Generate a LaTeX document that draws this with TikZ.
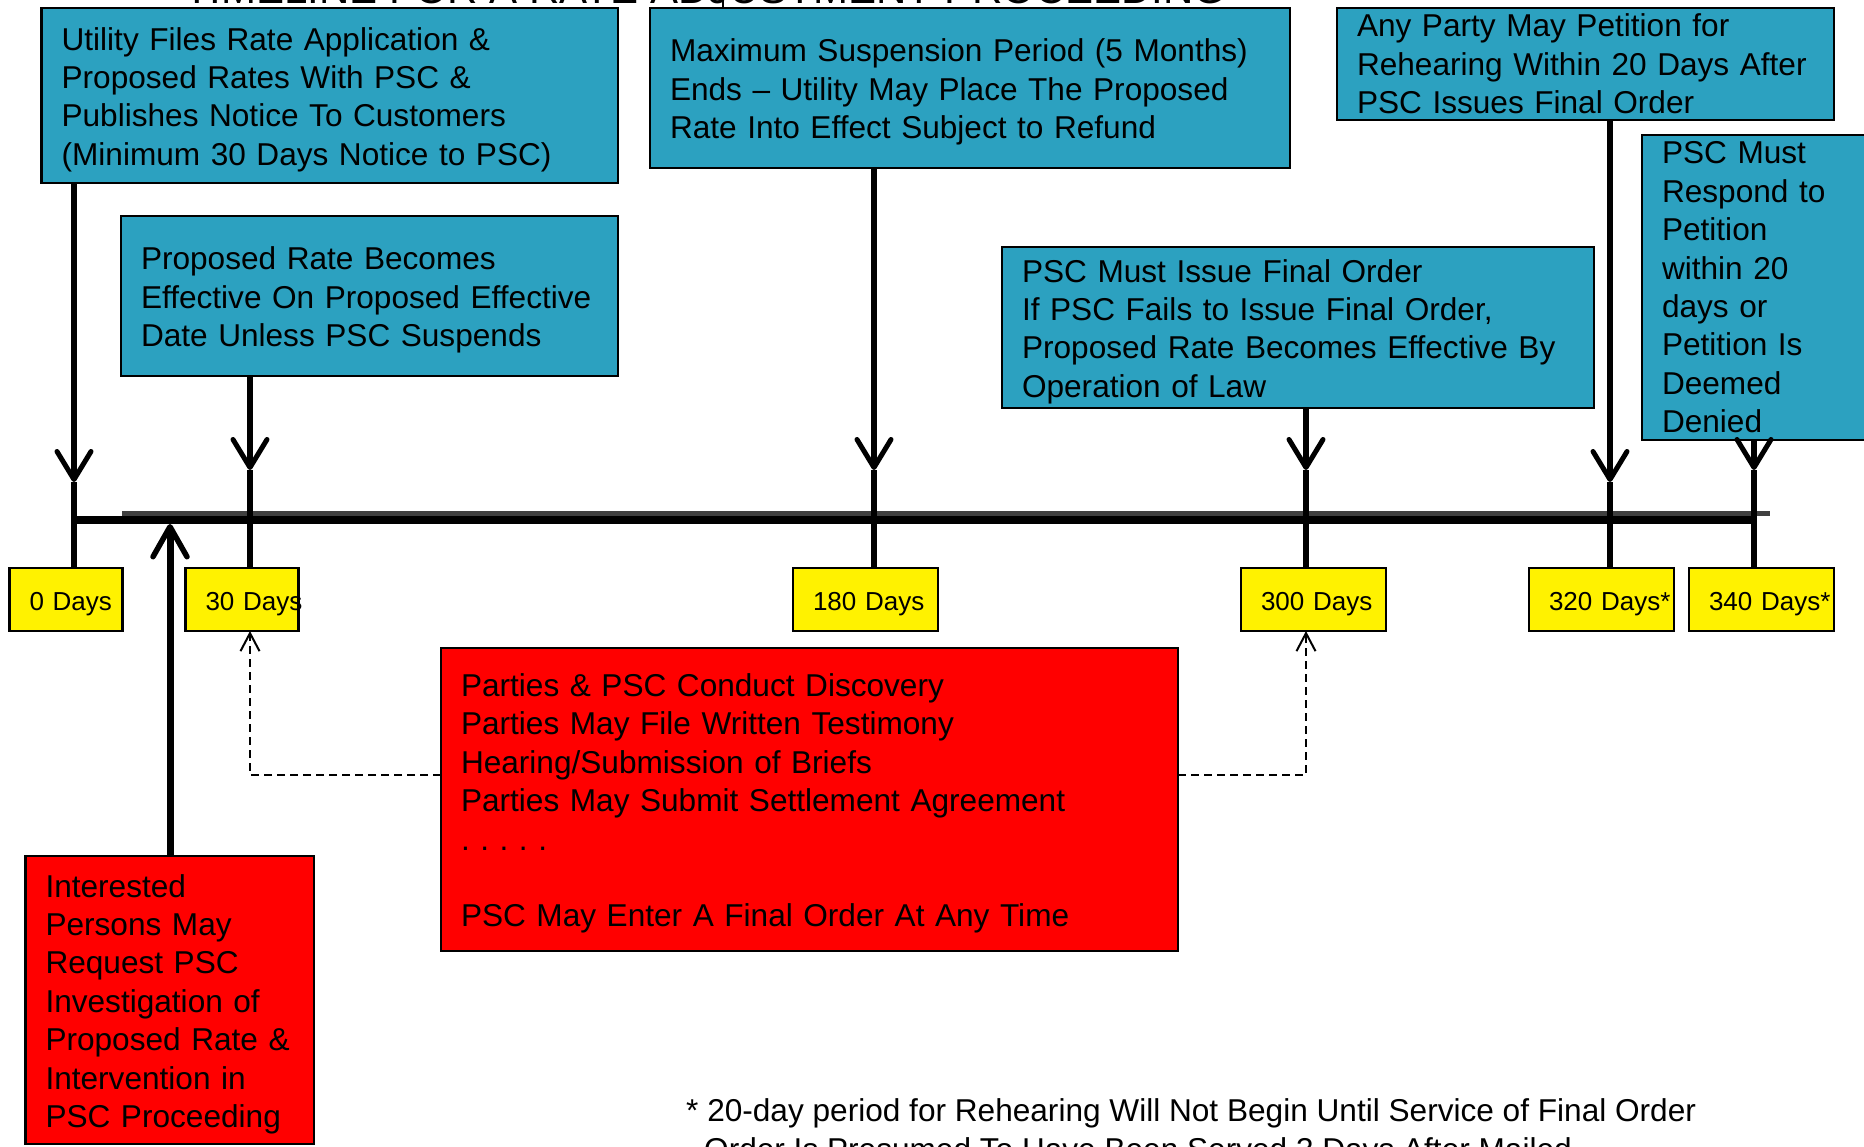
\documentclass[tikz,border=0pt]{standalone}
\usepackage{fontspec}
\setmainfont{Liberation Sans}
\usetikzlibrary{arrows.meta}
\definecolor{boxcyan}{RGB}{44,161,192}
\definecolor{tlgray}{RGB}{64,64,64}
\hfuzz=200pt
\frenchspacing
\tikzset{
  infobox/.style={draw=black, line width=2.5pt, fill=boxcyan, anchor=north west,
    align=left, inner xsep=20pt, inner ysep=0pt, outer sep=0pt,
    font=\fontsize{31.6}{38.4}\selectfont},
  lowtext/.style={execute at begin node={\rule{0pt}{31pt}}},
  redbox/.style={infobox, lowtext, fill=red},
  daybox/.style={draw=black, line width=2.5pt, fill=yellow, anchor=north west,
    align=left, inner xsep=20pt, inner ysep=0pt, outer sep=0pt, minimum height=63pt,
    font=\fontsize{26}{31}\selectfont, execute at begin node={\rule{0pt}{27pt}}},
  arr/.style={line width=5.5pt, -{Straight Barb[length=28pt,width=34pt,line width=5pt,round]}},
  arrup/.style={line width=7pt, -{Straight Barb[length=30pt,width=34pt,line width=5.5pt,round]}},
  tick/.style={line width=5.5pt},
  dasharr/.style={line width=2pt, dash pattern=on 8pt off 5pt,
    -{Straight Barb[length=18pt,width=19pt,line width=2pt]}},
  plaintext/.style={inner sep=0pt, font=\fontsize{31.6}{38.4}\selectfont}
}
\begin{document}
\begin{tikzpicture}[x=1pt,y=-1pt]
\useasboundingbox (0,0) rectangle (1864,1147);

% title (cut off at the top)
\node[anchor=base west, inner sep=0pt, font=\fontsize{42}{50}\selectfont] (title) at (184,4) {TIMELINE FOR A RATE ADJUSTMENT PROCEEDING};

% cyan boxes
\node[infobox, lowtext, text width=536.6pt, minimum height=175pt] (A) at (41.6,8)
  {Utility Files Rate Application \&\\Proposed Rates With PSC \&\\Publishes Notice To Customers\\(Minimum 30 Days Notice to PSC)};
\node[infobox, lowtext, text width=600pt, minimum height=160pt] (B) at (650,8)
  {Maximum Suspension Period (5 Months)\\Ends -- Utility May Place The Proposed\\Rate Into Effect Subject to Refund};
\node[infobox, text width=457pt, minimum height=112pt] (C) at (1337,8)
  {Any Party May Petition for\\Rehearing Within 20 Days After\\PSC Issues Final Order};
\node[infobox, text width=200pt, minimum height=305pt] (D) at (1642,135)
  {PSC Must\\Respond to\\Petition\\within 20\\days or\\Petition Is\\Deemed\\Denied};
\node[infobox, lowtext, text width=457pt, minimum height=160pt] (E) at (121,216)
  {Proposed Rate Becomes\\Effective On Proposed Effective\\Date Unless PSC Suspends};
\node[infobox, lowtext, text width=552pt, minimum height=161pt] (F) at (1002,247)
  {PSC Must Issue Final Order\\If PSC Fails to Issue Final Order,\\Proposed Rate Becomes Effective By\\Operation of Law};

% red boxes
\node[redbox, text width=697pt, minimum height=303pt] (G) at (441,648)
  {Parties \& PSC Conduct Discovery\\Parties May File Written Testimony\\Hearing/Submission of Briefs\\Parties May Submit Settlement Agreement\\. . . . .\\[38.4pt]PSC May Enter A Final Order At Any Time};
\node[redbox, text width=248.5pt, minimum height=288pt] (H) at (25.5,856)
  {Interested\\Persons May\\Request PSC\\Investigation of\\Proposed Rate \&\\Intervention in\\PSC Proceeding};

% day boxes
\node[daybox, text width=73pt] (d0) at (9.5,568) {\mbox{0 Days}};
\node[daybox, text width=73pt] (d30) at (185.5,568) {\mbox{30 Days}};
\node[daybox, text width=105pt] (d180) at (793,568) {\mbox{180 Days}};
\node[daybox, text width=105pt] (d300) at (1241,568) {\mbox{300 Days}};
\node[daybox, text width=105pt] (d320) at (1529,568) {\mbox{320 Days*}};
\node[daybox, text width=105pt] (d340) at (1689,568) {\mbox{340 Days*}};

% arrow tips on the ticks
\coordinate (t0) at (74,482);
\coordinate (t30) at (250,470);
\coordinate (t180) at (874,470);
\coordinate (t300) at (1306,470);
\coordinate (t320) at (1610,482);
\coordinate (t340) at (1754,470);

% timeline
\coordinate (gL) at (122,513.5);
\coordinate (gR) at (1770,513.5);
\coordinate (tlR) at (1754,520);
\draw[line width=5pt, tlgray] (gL) -- (gR);
\draw[line width=8pt] (t0 |- tlR) -- (tlR);

% ticks
\draw[tick] (d0.north -| t0) -- (t0);
\draw[tick] (d30.north -| t30) -- (t30);
\draw[tick] (d180.north -| t180) -- (t180);
\draw[tick] (d300.north -| t300) -- (t300);
\draw[tick] (d320.north -| t320) -- (t320);
\draw[tick] (d340.north -| t340) -- (t340);

% arrows from boxes
\draw[arr] (A.south -| t0) -- (t0);
\draw[arr] (E.south -| t30) -- (t30);
\draw[arr] (B.south -| t180) -- (t180);
\draw[arr] (F.south -| t300) -- (t300);
\draw[arr] (C.south -| t320) -- (t320);
\draw[arr] (D.south -| t340) -- (t340);

% upward arrow
\coordinate (tup) at (170,524);
\draw[arrup] (H.north -| tup) -- (tup);

% dashed arrows
\draw[dasharr] ([yshift=25pt]G.west) -| (d30.south -| t30);
\draw[dasharr] ([yshift=25pt]G.east) -| (d300.south -| t300);

% small mark under the title
\coordinate (mk) at (723,0);
\draw[line width=2pt] (mk) -- (B.north -| mk);

% footnote
\node[plaintext, anchor=base west] (note1) at (686,1121.5)
  {* 20-day period for Rehearing Will Not Begin Until Service of Final Order};
\node[plaintext, anchor=base west] (note2) at (704,1160)
  {Order Is Presumed To Have Been Served 3 Days After Mailed};
\end{tikzpicture}
\end{document}
